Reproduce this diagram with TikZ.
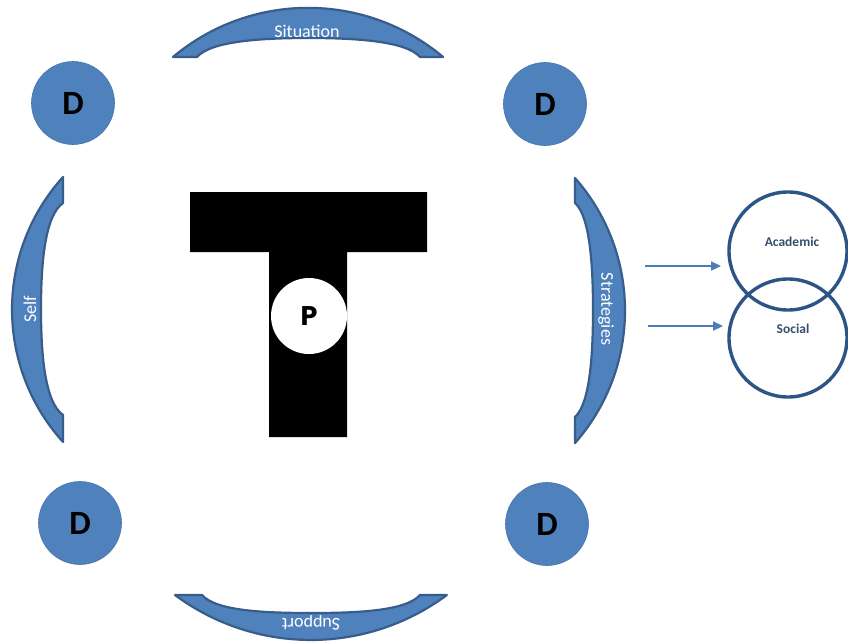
\documentclass[tikz,border=0pt]{standalone}
\usepackage{fontspec}
\setmainfont{Carlito}
\newfontfamily\pfont{Poppins}
\usetikzlibrary{arrows.meta}
\definecolor{bandfill}{HTML}{4F81BD}
\definecolor{bandline}{HTML}{385D8A}
\definecolor{venn}{HTML}{2C5585}
\definecolor{vtext}{HTML}{34506F}
\definecolor{arrowc}{HTML}{4A7EBB}
\tikzset{
  band/.style={fill=bandfill, draw=bandline, line width=2.2pt, line join=round},
  bandtext/.style={text=white, font=\fontsize{18}{20}\selectfont, inner sep=0pt},
  dcircle/.style={circle, fill=bandfill, draw=bandfill!90!black, line width=0.6pt, minimum size=83pt, inner sep=0pt, font=\fontsize{34}{36}\selectfont\bfseries},
  venncircle/.style={circle, draw=venn, line width=3.4pt, minimum size=118pt, inner sep=0pt},
  venntext/.style={text=vtext, font=\fontsize{13.5}{15}\selectfont\bfseries, inner sep=0pt},
  flowarrow/.style={draw=arrowc, line width=2.2pt, -{Triangle[length=10pt,width=9pt]}}
}
\begin{document}
\begin{tikzpicture}[x=1pt,y=-1pt]
\useasboundingbox (0,0) rectangle (848,642);
\fill[white] (0,0) rectangle (848,642);

% top band (Situation)
\draw[band] (173,57) arc[start angle=-130.0, end angle=-50.0, radius=210.1]
  -- (420,57) .. controls (406,41) and (355,38) .. (308.5,38)
  .. controls (262,38) and (211,41) .. (197,57) -- cycle;
\node[bandtext] (sit) at (307,31) {Situation};

% bottom band (Support)
\draw[band] (175,595) arc[start angle=126.6, end angle=53.4, radius=228]
  -- (420,595) .. controls (406,611) and (357,613) .. (311,613)
  .. controls (265,613) and (216,611) .. (202,595) -- cycle;
\node[bandtext, rotate=180] (sup) at (311,623) {Support};

% left band (Self)
\draw[band] (63,177) arc[start angle=222.1, end angle=137.9, radius=197.6]
  -- (63,415) .. controls (44.5,402) and (41,353) .. (41,309)
  .. controls (41,265) and (44.5,216) .. (63,203) -- cycle;
\node[bandtext, rotate=90] (self) at (30,309) {Self};

% right band (Strategies)
\draw[band] (575,178) arc[start angle=-41.35, end angle=41.35, radius=200.6]
  -- (575,417) .. controls (590,403.5) and (593,354.6) .. (593,310)
  .. controls (593,265.4) and (590,216.5) .. (575,203) -- cycle;
\node[bandtext, rotate=-90] (strat) at (606,309) {Strategies};

% D circles
\node[dcircle] (d1) at (73,103) {D};
\node[dcircle] (d2) at (545,104) {D};
\node[dcircle] (d3) at (80,523) {D};
\node[dcircle] (d4) at (547,524) {D};

% T shape
\fill[black] (190,192) -- (427,192) -- (427,252) -- (347,252) -- (347,437)
  -- (269,437) -- (269,252) -- (190,252) -- cycle;
\node[circle, fill=white, minimum size=76pt, inner sep=0pt,
  font=\pfont\bfseries\fontsize{27}{29}\selectfont] (p) at (309,316) {P};

% Venn circles
\node[venncircle] (acad) at (788,251) {};
\node[venncircle] (soc) at (788,338) {};
\node[venntext] (acadt) at (792,242) {Academic};
\node[venntext] (soct) at (793,329) {Social};

% arrows
\coordinate (a1s) at (645,266);
\coordinate (a1e) at (721,266);
\coordinate (a2s) at (648,326);
\coordinate (a2e) at (723,326);
\draw[flowarrow] (a1s) -- (a1e);
\draw[flowarrow] (a2s) -- (a2e);
\end{tikzpicture}
\end{document}
